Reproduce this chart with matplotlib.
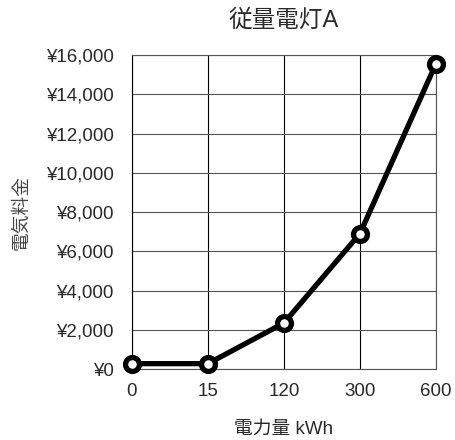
import matplotlib
matplotlib.use('Agg')
import matplotlib.pyplot as plt
from matplotlib.ticker import FuncFormatter

plt.rcParams['font.family'] = ['Liberation Sans', 'Noto Sans CJK JP', 'DejaVu Sans']

# data
usage_labels = ['0', '15', '120', '300', '600']
charges = [280, 280, 2350, 6900, 15550]
y_ticks = [0, 2000, 4000, 6000, 8000, 10000, 12000, 14000, 16000]

text_color = '#2a2a2a'

fig = plt.figure(figsize=(4.55, 4.4), dpi=100)
ax = fig.add_axes([0.290, 0.161, 0.668, 0.714])

xpos = list(range(len(usage_labels)))
ax.plot(xpos, charges, color='black', linewidth=3.8, marker='o', markersize=10,
        markerfacecolor='white', markeredgecolor='black', markeredgewidth=3.8,
        clip_on=False, zorder=5)

ax.set_xlim(0, len(usage_labels) - 1)
ax.set_ylim(0, 16000)
ax.set_xticks(xpos)
ax.set_xticklabels(usage_labels)
ax.set_yticks(y_ticks)
ax.yaxis.set_major_formatter(FuncFormatter(lambda v, p: '¥{:,.0f}'.format(v)))

ax.grid(axis='x', color='black', linewidth=0.8)
ax.grid(axis='y', color='#555555', linewidth=0.8)
ax.set_axisbelow(True)
for s in ax.spines.values():
    s.set_color('#555555')
    s.set_linewidth(0.8)
ax.spines['left'].set_color('black')

ax.tick_params(axis='y', length=0, pad=13, labelsize=13.5, colors=text_color)
ax.tick_params(axis='x', length=0, pad=10, labelsize=13.5, colors=text_color)

ax.set_title('従量電灯A', fontsize=17, color=text_color, pad=20)
ax.set_xlabel('電力量 kWh', fontsize=13.5, color=text_color, labelpad=15)
ax.set_ylabel('電気料金', fontsize=13.5, color='#444444', labelpad=11)

fig.savefig('out.png', dpi=100)
